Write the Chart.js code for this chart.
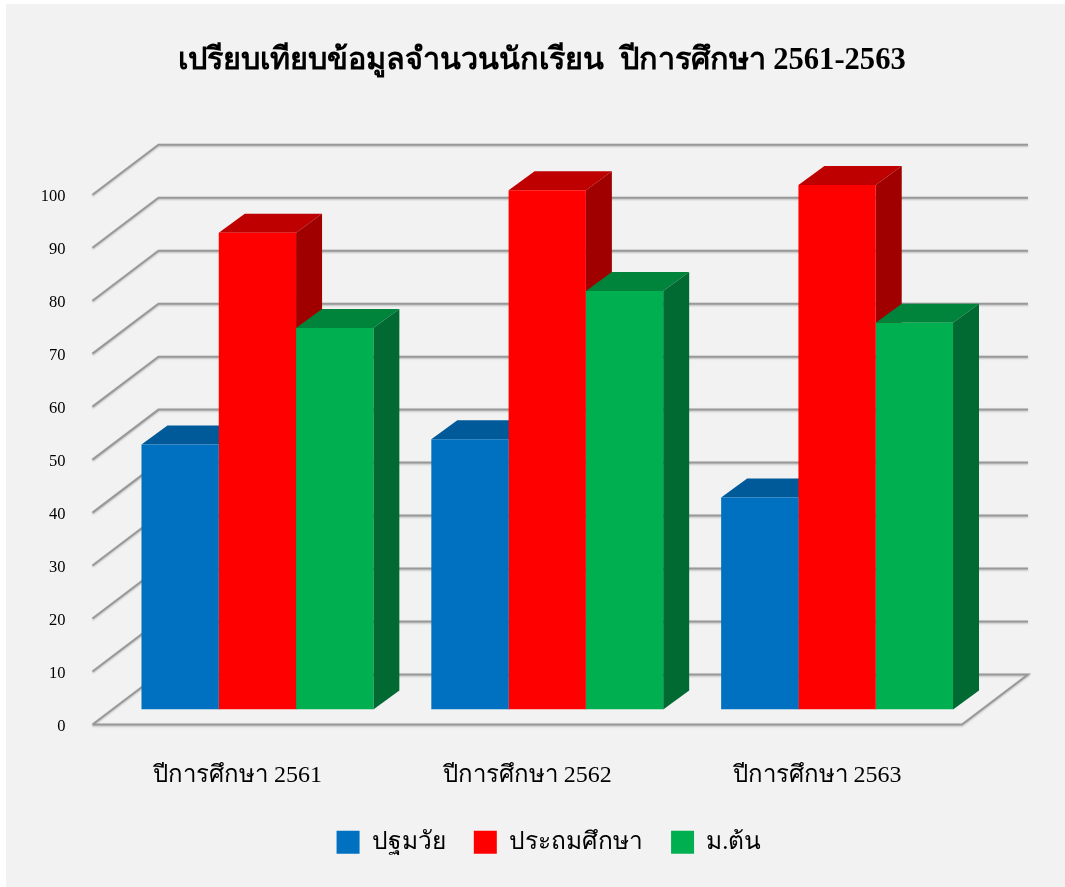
<!DOCTYPE html>
<html><head><meta charset="utf-8">
<style>html,body{margin:0;padding:0;background:#fff}canvas{display:block}</style>
<script src="https://cdn.jsdelivr.net/npm/chart.js@4/dist/chart.umd.min.js"></script>
</head><body>
<div style="width:1065px;height:887px"><canvas id="c" width="1065" height="887"></canvas></div>
<script>
const categories = ["ปีการศึกษา 2561", "ปีการศึกษา 2562", "ปีการศึกษา 2563"];
const seriesNames = ["ปฐมวัย", "ประถมศึกษา", "ม.ต้น"];
const preschool = [50, 51, 40];
const primary = [90, 98, 99];
const lowerSecondary = [72, 79, 73];
const frontColors = ["#0070C0", "#FF0000", "#00B050"];
const topColors = ["#005A9A", "#BF0000", "#00843C"];
const sideColors = ["#004F86", "#A00000", "#006A32"];
const titleText = "เปรียบเทียบข้อมูลจำนวนนักเรียน  ปีการศึกษา 2561-2563";

const FONT = '"Liberation Serif",serif';
const wall = {dx: 66, dy: -50};
const bar = {dx: 20, dy: -15, depthX: 26, depthY: -19};

function poly(ctx, pts, fill){
  ctx.beginPath(); pts.forEach((p,i)=> i?ctx.lineTo(p[0],p[1]):ctx.moveTo(p[0],p[1]));
  ctx.closePath(); ctx.fillStyle = fill; ctx.fill();
}
const bg = { id:'bg',
  afterLayout(ch){
    ch.titleBlock.left += 61; ch.titleBlock.right += 61;
    ch.legend.left += 68; ch.legend.right += 68;
  },
  beforeDraw(ch){ const c=ch.ctx; c.save(); c.fillStyle='#F2F2F2'; c.fillRect(6,4,1059,883); c.restore(); } };
const walls = { id:'walls', beforeDatasetsDraw(ch){
  const c=ch.ctx, y=ch.scales.y, a=ch.chartArea;
  c.save(); c.strokeStyle='#999999'; c.lineWidth=2; c.lineJoin='miter';
  c.shadowColor='rgba(0,0,0,0.25)'; c.shadowBlur=2; c.shadowOffsetY=1;
  y.ticks.forEach(t=>{
    const py=y.getPixelForValue(t.value);
    c.beginPath(); c.moveTo(a.left,py); c.lineTo(a.left+wall.dx,py+wall.dy); c.lineTo(a.right+wall.dx,py+wall.dy);
    if(t.value===0){ c.lineTo(a.right,py); c.lineTo(a.left,py); }
    c.stroke();
  });
  c.restore();
}};
const bars3d = { id:'bars3d',
  beforeDatasetsDraw(ch){
    const c=ch.ctx;
    c.save(); c.translate(bar.dx,bar.dy);
    ch.data.datasets.forEach((ds,i)=>{
      ch.getDatasetMeta(i).data.forEach(el=>{
        const p=el.getProps(['x','y','base','width'],true), l=p.x-p.width/2, r=p.x+p.width/2;
        poly(c,[[l,p.y],[l+bar.depthX,p.y+bar.depthY],[r+bar.depthX,p.y+bar.depthY],[r,p.y]],topColors[i]);
        poly(c,[[r,p.y],[r+bar.depthX,p.y+bar.depthY],[r+bar.depthX,p.base+bar.depthY],[r,p.base]],sideColors[i]);
      });
    });
  },
  afterDatasetsDraw(ch){ ch.ctx.restore(); }
};

new Chart(document.getElementById('c'),{
  type:'bar',
  data:{labels:categories,datasets:[
    {label:seriesNames[0],data:preschool,backgroundColor:frontColors[0]},
    {label:seriesNames[1],data:primary,backgroundColor:frontColors[1]},
    {label:seriesNames[2],data:lowerSecondary,backgroundColor:frontColors[2]}
  ]},
  plugins:[bg,walls,bars3d],
  options:{
    responsive:false,animation:false,
    layout:{padding:{left:0,right:103,top:0,bottom:22.5}},
    datasets:{bar:{categoryPercentage:0.8,barPercentage:1}},
    plugins:{
      tooltip:{enabled:false},
      title:{display:true,text:titleText,color:'#000',font:{family:FONT,size:30.6,weight:'bold'},padding:{top:43,bottom:115}},
      legend:{position:'bottom',labels:{color:'#000',font:{family:FONT,size:24.5},boxWidth:23,boxHeight:23,padding:28}}
    },
    scales:{
      x:{grid:{display:false},border:{display:false},
         ticks:{color:'#000',font:{family:FONT,size:24},maxRotation:0,padding:28.5},
         afterFit(s){s.height=77.5;}},
      y:{min:0,max:100,grid:{display:false},border:{display:false},
         ticks:{stepSize:10,color:'#000',font:{family:FONT,size:16.5},padding:19,labelOffset:2},
         afterFit(s){s.width=92.5;}}
    }
  }
});
</script>
</body></html>
